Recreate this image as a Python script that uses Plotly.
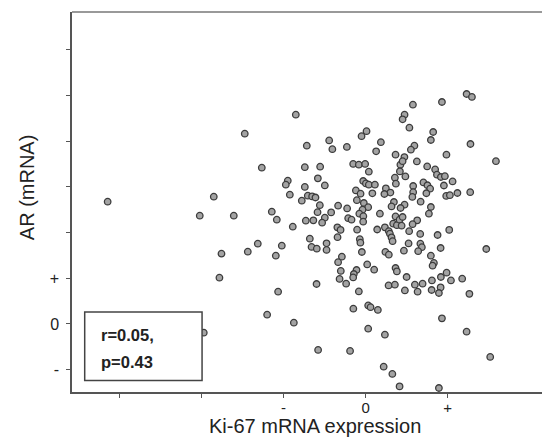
import plotly.graph_objects as go

# Ki-67 mRNA expression (x) vs AR mRNA (y), values in axis units (tick spacing = 1)
ki67 = [-3.147,-1.474,-1.266,-0.949,-0.973,-0.924,-1.852,-2.023,-1.608,-1.144,
        -1.083,-0.888,-1.315,-1.022,-0.851,-0.717,-0.741,-0.741,-0.705,-0.778,
        -0.729,-0.680,-1.758,-1.437,-1.095,-1.783,-1.067,-1.201,-0.875,-1.974,
        0.012,-0.049,-0.444,-0.405,-0.228,0.187,0.129,0.366,-0.554,-0.151,
        -0.082,-0.005,0.040,-0.582,-0.497,-0.652,-0.611,-0.029,0.004,0.040,
        0.114,-0.118,-0.061,0.083,0.248,0.303,0.230,0.358,0.370,0.425,
        0.419,-0.106,-0.021,0.032,-0.037,-0.558,-0.335,-0.225,-0.586,-0.420,
        0.346,0.317,0.175,-0.076,-0.027,-0.029,0.366,-0.637,-0.497,-0.212,
        -0.171,-0.530,-0.344,-0.305,-0.103,0.142,0.236,0.284,0.297,0.337,
        0.382,0.415,-0.342,-0.070,-0.063,0.317,0.330,-0.476,0.578,0.932,
        1.233,1.298,0.476,0.452,0.535,0.825,0.797,1.280,1.591,0.987,
        0.596,0.553,0.474,0.452,0.626,0.752,0.849,0.871,0.919,0.968,
        1.062,0.956,1.121,1.277,0.984,1.029,0.486,0.581,0.581,0.571,
        0.706,0.755,0.788,0.742,0.672,0.476,0.427,0.797,0.773,0.630,
        0.574,0.452,0.440,0.532,0.667,0.879,1.021,0.525,0.669,-0.659,
        -0.595,-0.476,-0.289,-0.335,-0.045,0.242,0.284,-0.302,-0.317,-0.110,
        -0.143,-0.151,0.020,0.105,0.366,0.382,-0.598,-0.237,-0.082,0.281,
        0.358,-0.149,0.032,0.061,0.150,0.032,0.236,-0.579,-0.189,0.221,
        0.327,0.415,0.468,0.687,0.642,0.916,0.797,0.834,0.818,1.473,
        0.501,0.602,0.696,0.810,0.919,0.989,1.042,1.179,0.480,0.635,
        0.806,0.916,0.895,1.267,0.932,1.233,1.521,0.895]
ar = [2.676,4.164,3.420,3.135,3.048,2.829,2.785,2.370,2.370,2.457,
      2.282,2.129,1.757,1.713,4.580,3.901,3.431,2.998,2.807,2.698,
      2.260,1.866,1.538,1.582,1.494,1.013,0.707,0.203,0.028,-0.190,
      4.218,4.109,4.017,3.825,3.873,3.978,3.777,3.704,3.442,3.501,
      3.485,3.501,3.332,3.186,3.032,2.792,2.768,3.129,3.076,3.048,
      3.048,2.923,2.851,2.858,2.967,2.875,2.844,3.201,3.070,3.485,
      3.339,2.709,2.647,2.556,2.501,2.599,2.588,2.529,2.446,2.442,
      2.669,2.573,2.413,2.413,2.359,2.238,2.354,2.267,2.326,2.315,
      2.282,2.216,2.114,2.059,2.063,2.067,2.114,2.030,1.976,2.195,
      2.162,2.282,1.899,1.855,1.779,1.895,1.812,1.764,4.798,4.857,
      5.032,4.967,4.580,4.477,4.295,4.201,4.026,3.938,3.562,3.704,
      3.901,3.813,3.653,3.562,3.557,3.448,3.382,3.266,3.216,3.234,
      3.120,3.030,2.866,2.884,2.801,2.818,3.229,3.019,2.884,2.779,
      3.098,3.035,2.960,2.860,2.676,2.610,2.538,2.560,2.413,2.267,
      2.183,2.341,2.151,2.030,1.971,1.947,2.059,1.763,1.757,1.685,
      1.647,1.621,1.472,1.352,1.575,1.577,1.516,1.160,0.985,1.181,
      1.094,1.019,1.304,1.188,1.225,1.151,0.875,0.882,0.713,0.844,
      0.860,0.335,0.407,0.368,0.308,-0.103,-0.234,-0.567,-0.589,-0.934,
      -1.092,-1.365,1.604,1.680,1.593,1.663,1.494,1.335,1.276,1.641,
      1.028,0.860,0.882,0.954,1.028,1.122,0.954,0.991,0.735,0.707,
      0.744,0.801,0.678,0.659,0.123,-0.168,-0.720,-1.400]

x_tickvals = [-3, -2, -1, 0, 1]
x_ticktext = ["", "", "-", "0", "+"]
y_tickvals = [-1, 0, 1, 2, 3, 4, 5, 6]
y_ticktext = ["-", "0", "+", "", "", "", "", ""]
x_title = "Ki-67 mRNA expression"
y_title = "AR (mRNA)"
stats_lines = ["r=0.05,", "p=0.43"]

fig = go.Figure()
fig.add_trace(go.Scatter(
    x=ki67, y=ar, mode="markers",
    marker=dict(size=6.5, color="#a3a3a3", line=dict(color="#3c3c3c", width=1.3)),
    showlegend=False, hoverinfo="skip"))

fig.add_shape(type="rect", xref="x", yref="y", x0=-3.427, x1=-1.995, y0=-1.236, y1=0.263,
              line=dict(color="#444", width=1.5), fillcolor="white", layer="above")
for txt, yy in zip(stats_lines, [-0.234, -0.825]):
    fig.add_annotation(xref="x", yref="y", x=-3.25, y=yy, xanchor="left", yanchor="middle",
                       text="<b>" + txt + "</b>", showarrow=False, align="left",
                       font=dict(size=16.5, color="#222"))
# top border
fig.add_shape(type="line", xref="paper", yref="paper", x0=0, x1=1, y0=1, y1=1,
              line=dict(color="#777", width=1.5))
# axis titles
fig.add_annotation(xref="paper", yref="paper", x=0.518, y=-0.0895, xanchor="center", yanchor="middle",
                   text=x_title, showarrow=False, font=dict(size=20, color="#222"))
fig.add_annotation(xref="paper", yref="paper", x=-0.0957, y=0.539, xanchor="center", yanchor="middle",
                   text=y_title, textangle=-90, showarrow=False, font=dict(size=20, color="#222"))

fig.update_layout(
    width=542, height=444,
    margin=dict(l=72, r=0, t=12, b=52, autoexpand=False),
    paper_bgcolor="white", plot_bgcolor="white",
    font=dict(family="Liberation Sans, Arial, sans-serif", size=15, color="#222"),
    xaxis=dict(range=[-3.582, 2.153], tickvals=x_tickvals, ticktext=x_ticktext, automargin=False,
               showgrid=False, zeroline=False, showline=True, linecolor="#555", linewidth=1.5,
               ticks="outside", ticklen=4, tickcolor="#555", ticklabelstandoff=-3),
    yaxis=dict(range=[-1.488, 6.826], tickvals=y_tickvals, ticktext=y_ticktext, automargin=False,
               showgrid=False, zeroline=False, showline=True, linecolor="#555", linewidth=1.5,
               ticks="outside", ticklen=4, tickcolor="#555", ticklabelstandoff=4,
               tickfont=dict(size=16)),
)

fig.write_html("out.html", config={"displayModeBar": False},
               post_script="document.body.style.margin='0';document.body.style.overflow='hidden';")
